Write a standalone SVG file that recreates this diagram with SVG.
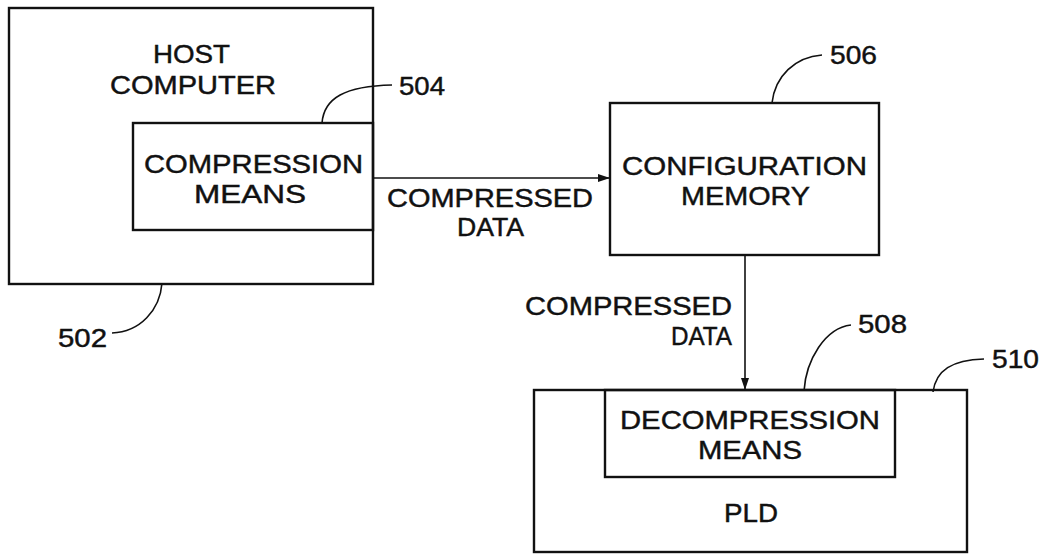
<svg xmlns="http://www.w3.org/2000/svg" width="1048" height="554" viewBox="0 0 1048 554">
<style>
.box{fill:none;stroke:#111;stroke-width:2.4}
.lead{fill:none;stroke:#111;stroke-width:1.6}
.conn{fill:none;stroke:#111;stroke-width:1.6}
text{font-family:"Liberation Sans",Arial,sans-serif;font-size:26px;fill:#111;stroke:#111;stroke-width:0.45}
</style>
<defs>
<marker id="arr" markerWidth="12" markerHeight="10" refX="11" refY="5" orient="auto" markerUnits="userSpaceOnUse">
<path d="M0,1 L12,5 L0,9 Z" fill="#111"/>
</marker>
</defs>
<rect width="1048" height="554" fill="#fff"/>
<g id="host">
<rect class="box" x="9" y="8" width="364" height="276"/>
<text x="153" y="63" textLength="77" lengthAdjust="spacingAndGlyphs">HOST</text>
<text x="110" y="94" textLength="166" lengthAdjust="spacingAndGlyphs">COMPUTER</text>
<path class="lead" d="M162,283 C160,310 140,332 112,333"/>
<text x="58" y="347" textLength="49" lengthAdjust="spacingAndGlyphs">502</text>
</g>
<g id="compression">
<rect class="box" x="133" y="123" width="240" height="107"/>
<text x="144" y="173" textLength="219" lengthAdjust="spacingAndGlyphs">COMPRESSION</text>
<text x="194" y="203" textLength="112" lengthAdjust="spacingAndGlyphs">MEANS</text>
<path class="lead" d="M322,123 C324,98 345,86 392,85"/>
<text x="399" y="95" textLength="46" lengthAdjust="spacingAndGlyphs">504</text>
</g>
<g id="config">
<rect class="box" x="610" y="103" width="269" height="152"/>
<text x="622" y="175" textLength="245" lengthAdjust="spacingAndGlyphs">CONFIGURATION</text>
<text x="681" y="205" textLength="129" lengthAdjust="spacingAndGlyphs">MEMORY</text>
<path class="lead" d="M772,103 C775,76 795,57 822,55"/>
<text x="830" y="64" textLength="47" lengthAdjust="spacingAndGlyphs">506</text>
</g>
<g id="pld">
<rect class="box" x="534" y="390" width="433" height="162"/>
<text x="724" y="522" textLength="54" lengthAdjust="spacingAndGlyphs">PLD</text>
<path class="lead" d="M933,392 C936,370 952,360 984,359"/>
<text x="992" y="368" textLength="47" lengthAdjust="spacingAndGlyphs">510</text>
</g>
<g id="decompression">
<rect class="box" x="605" y="390" width="290" height="87"/>
<text x="620" y="429" textLength="260" lengthAdjust="spacingAndGlyphs">DECOMPRESSION</text>
<text x="698" y="459" textLength="104" lengthAdjust="spacingAndGlyphs">MEANS</text>
<path class="lead" d="M804,391 C806,360 825,328 851,325"/>
<text x="858" y="333" textLength="49" lengthAdjust="spacingAndGlyphs">508</text>
</g>
<g id="connectors">
<line class="conn" x1="373" y1="178" x2="609" y2="178" marker-end="url(#arr)"/>
<text x="387" y="207" textLength="206" lengthAdjust="spacingAndGlyphs">COMPRESSED</text>
<text x="457" y="236" textLength="67" lengthAdjust="spacingAndGlyphs">DATA</text>
<line class="conn" x1="745" y1="255" x2="745" y2="389" marker-end="url(#arr)"/>
<text x="525" y="315" textLength="207" lengthAdjust="spacingAndGlyphs">COMPRESSED</text>
<text x="671" y="345" textLength="61" lengthAdjust="spacingAndGlyphs">DATA</text>
</g>
</svg>
